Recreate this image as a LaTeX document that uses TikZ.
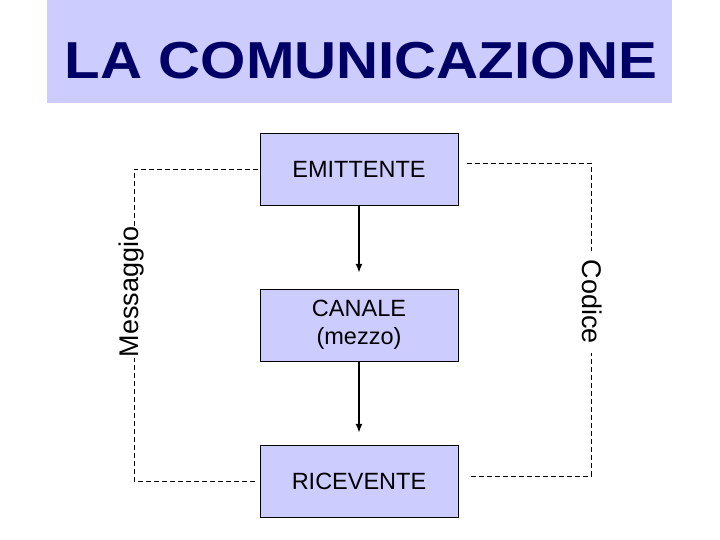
\documentclass[tikz,border=0pt]{standalone}
\usepackage{fontspec}
\setmainfont{Liberation Sans}
\usetikzlibrary{arrows.meta}
\definecolor{lilla}{HTML}{CCCCFF}
\definecolor{navy}{HTML}{000066}
\tikzset{
  blocco/.style={draw=black, fill=lilla, minimum width=198pt, minimum height=72pt,
    font=\fontsize{23.5}{28}\selectfont, align=center},
  linea/.style={dashed, dash pattern=on 5pt off 3pt, line width=0.6pt},
  etich/.style={fill=white, inner sep=1pt, font=\fontsize{27}{30}\selectfont}
}
\begin{document}
\begin{tikzpicture}[>={Latex[length=9pt,width=7pt]}, x=1pt, y=-1pt]
    \useasboundingbox (0,0) rectangle (720,540);
    \fill[lilla] (47,0) rectangle (672,103);
    \node[text=navy, font=\fontsize{52}{60}\selectfont\bfseries] (titolo) at (361,61)
      {\scalebox{1.12}[1]{LA COMUNICAZIONE}};

    \node[blocco] (emit) at (359,169) {EMITTENTE};
    \node[blocco] (canale) at (359,325) {CANALE\\(mezzo)};
    \node[blocco] (ricev) at (359,481) {RICEVENTE};

    \draw[->, line width=1.6pt, shorten >=16pt] (emit) -- (canale);
    \draw[->, line width=1.6pt, shorten >=12pt] (canale) -- (ricev);

    % percorsi tratteggiati
    \coordinate (sx) at (134,169);
    \coordinate (dx) at (591,163);
    \draw[linea] ([xshift=-2pt]emit.west) -- (sx) -- (sx |- ricev.west) -- ([xshift=-5pt]ricev.west);
    \draw[linea] ([xshift=9pt,yshift=6pt]emit.east) -- (dx) -- (591,476) -- ([xshift=12pt,yshift=5pt]ricev.east);

    \node[etich, rotate=90] (mess) at (132,292) {Messaggio};
    \node[etich, rotate=-90, inner xsep=9pt] (cod) at (592,302) {Codice};
\end{tikzpicture}
\end{document}
